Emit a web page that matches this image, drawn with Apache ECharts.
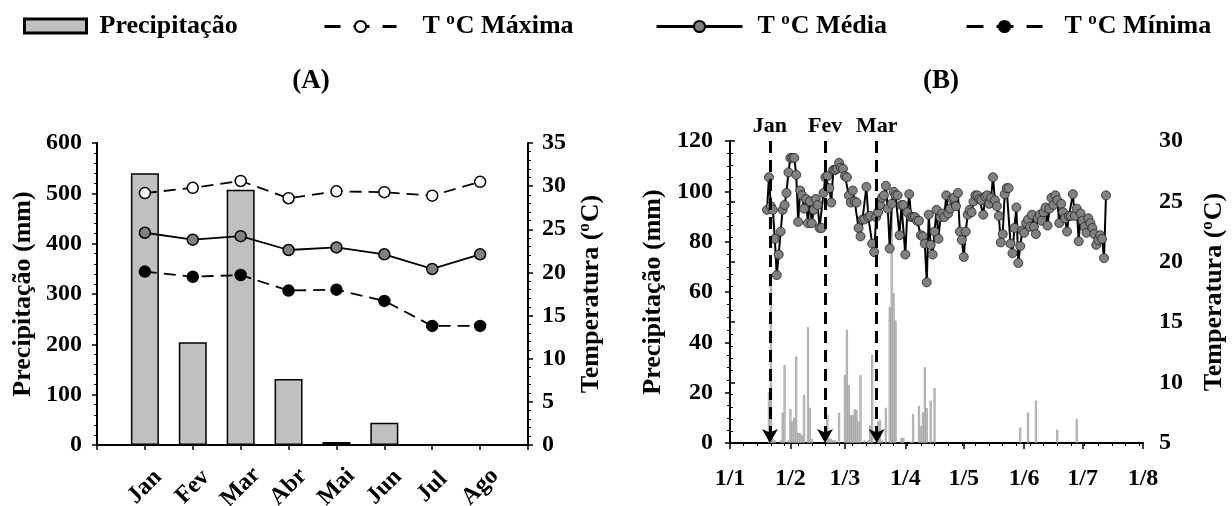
<!DOCTYPE html>
<html>
<head>
<meta charset="utf-8">
<script src="https://cdn.jsdelivr.net/npm/echarts@6/dist/echarts.min.js"></script>
<style>
  html, body { margin: 0; padding: 0; background: #fff; }
  #chart { width: 1232px; height: 506px; }
</style>
</head>
<body>
<div id="chart"></div>
<script>
// (A) monthly
const months = ['Jan', 'Fev', 'Mar', 'Abr', 'Mai', 'Jun', 'Jul', 'Ago'];
const precipMonthly = [540, 204, 507, 131, 6, 44, 0, 0];
const tMaxMonthly = [29.2, 29.8, 30.6, 28.6, 29.4, 29.3, 28.9, 30.5];
const tMedMonthly = [24.6, 23.8, 24.2, 22.6, 22.9, 22.1, 20.4, 22.1];
const tMinMonthly = [20.1, 19.5, 19.7, 17.9, 18.0, 16.7, 13.8, 13.8];

// (B) daily, day 0 = 1/1
const monthStartDays = [0, 31, 59, 90, 120, 151, 181, 212];
const monthStartLabels = ['1/1', '1/2', '1/3', '1/4', '1/5', '1/6', '1/7', '1/8'];
const rainDays = [20, 21, 22, 23, 26, 27, 28, 30, 31, 32, 33, 34, 35, 36, 37, 38, 40, 41, 42,
  50, 51, 52, 53, 54, 56, 59, 60, 61, 62, 63, 64, 65, 66, 67, 69, 71, 72, 73, 76, 77, 78,
  80, 82, 83, 84, 85, 88, 89, 93, 94, 97, 98, 99, 100, 101, 103, 105,
  149, 153, 157, 168, 178];
const rainMm = [20, 65, 1.5, 1, 1, 12, 31, 1, 13.5, 8.6, 10, 34.4, 4, 4, 3, 19.2, 46, 14, 1.5,
  11, 2, 1.5, 1, 1, 12, 27, 45, 23, 11, 11, 13.5, 13, 8.6, 27, 1, 1, 7, 35, 8.6, 9, 1,
  14, 54, 97, 59.5, 48.6, 2, 2, 0.5, 11.6, 14.8, 6.6, 12.1, 30.1, 13.9, 16.8, 21.8,
  6.2, 12.1, 16.8, 5.3, 9.5];
const tempStartDay = 19;
const tempDaily = [
  24.3, 27.0, 24.6, 24.3, 21.9, 18.9, 20.6, 22.5, 24.3, 24.7,
  25.7, 27.4, 28.6, 28.6, 28.6, 27.2, 23.3, 25.9, 25.5, 24.4,
  25.2, 23.2, 25.0, 23.2, 24.3, 25.2, 24.7, 22.8, 22.8, 25.7,
  27.0, 27.1, 26.1, 24.9, 27.6, 27.6, 27.7, 28.2, 27.8, 27.7,
  27.1, 27.0, 25.5, 24.9, 25.9, 25.0, 24.9, 22.8, 22.1, 23.5,
  23.5, 26.2, 23.7, 23.8, 21.5, 20.8, 23.7, 24.1, 24.7, 25.3,
  25.5, 26.3, 24.4, 21.1, 24.8, 25.8, 25.5, 25.5, 22.2, 24.7,
  24.7, 20.6, 24.1, 25.6, 23.7, 23.7, 23.7, 23.4, 23.4, 22.2,
  22.1, 21.5, 18.3, 23.9, 21.4, 20.6, 22.5, 24.3, 21.9, 23.7,
  24.0, 23.7, 25.5, 24.0, 24.4, 25.2, 25.3, 24.6, 25.7, 22.5,
  21.8, 20.4, 22.5, 23.9, 24.3, 24.1, 25.0, 25.5, 25.5, 25.2,
  25.1, 23.9, 25.4, 25.5, 24.8, 25.3, 27.0, 25.1, 24.6, 23.8,
  21.6, 22.3, 25.6, 26.1, 26.1, 21.5, 20.7, 22.8, 24.5, 19.9,
  21.3, 22.6, 22.4, 23.2, 23.5, 22.9, 23.9, 22.9, 22.3, 23.6,
  23.9, 23.4, 24.1, 24.5, 23.0, 24.4, 25.3, 24.7, 25.5, 25.1,
  23.2, 24.8, 24.1, 23.6, 22.5, 23.8, 23.8, 25.6, 23.8, 24.4,
  21.7, 24.0, 23.4, 22.9, 22.4, 23.6, 23.2, 22.8, 22.3, 21.4,
  21.8, 22.2, 21.9, 20.3, 25.5
];
const arrowDays = [20.5, 48.8, 75.3];
const arrowLabels = ['Jan', 'Fev', 'Mar'];

const FONT = 'Liberation Serif';
const chart = echarts.init(document.getElementById('chart'), null, { renderer: 'canvas' });

const boldText = (size) => ({ color: '#000', fontFamily: FONT, fontWeight: 'bold', fontSize: size });
// raised "o" of the degree sign
const supStyle = (size, lift) => Object.assign(boldText(size), { padding: [0, 1, lift, 0] });

const yAxisBase = {
  axisLine: { show: true, lineStyle: { color: '#000', width: 2 } },
  axisTick: { show: true, length: 5, lineStyle: { color: '#000', width: 1.5 } },
  minorTick: { show: true, length: 3, lineStyle: { color: '#000', width: 1 } },
  splitLine: { show: false },
  nameLocation: 'middle',
  nameRotate: 90,
  nameTextStyle: Object.assign(boldText(26), { rich: { sup: supStyle(17, 14) } })
};
const yLabel = (m) => Object.assign(boldText(24), { margin: m });

// A: categories with empty slots at both ends
const catA = [''].concat(months, ['']);
const padA = (arr) => [null].concat(arr, [null]);
// weekly minor ticks along the daily axis
const weekTicks = [];
for (let d = 7; d < 212; d += 7) weekTicks.push(d);

const dashed = [12, 7];
const legendText = (pad) => Object.assign(boldText(26), { padding: [0, 0, 0, pad], rich: { sup: supStyle(17, 14) } });
const legendBase = { top: 6, itemHeight: 14 };
const option = {
  animation: false,
  title: [
    { text: '(A)', left: 306, top: 63, textAlign: 'center', textStyle: boldText(27) },
    { text: '(B)', left: 936, top: 63, textAlign: 'center', textStyle: boldText(27) }
  ],
  legend: [
    Object.assign({}, legendBase, {
      data: [{ name: 'Precipitação', icon: 'rect' }], left: 18, top: 8, itemWidth: 62,
      itemStyle: { borderWidth: 3, borderColor: '#000' }, textStyle: legendText(8)
    }),
    Object.assign({}, legendBase, {
      data: ['Tmax'], left: 318, itemWidth: 72,
      lineStyle: { width: 3, type: [16, 13] },
      formatter: () => 'T {sup|o}C Máxima', textStyle: legendText(21)
    }),
    Object.assign({}, legendBase, {
      data: ['Tmed'], left: 650, itemWidth: 86,
      lineStyle: { width: 3 },
      formatter: () => 'T {sup|o}C Média', textStyle: legendText(10)
    }),
    Object.assign({}, legendBase, {
      data: ['Tmin'], left: 960, itemWidth: 76,
      lineStyle: { width: 3, type: [17, 13] },
      formatter: () => 'T {sup|o}C Mínima', textStyle: legendText(17)
    })
  ],
  grid: [
    { left: 97, right: 704, top: 143, bottom: 61, outerBoundsMode: 'none' },
    { left: 730, right: 89, top: 141, bottom: 63, outerBoundsMode: 'none' }
  ],
  xAxis: [
    {
      gridIndex: 0, type: 'category', data: catA, boundaryGap: false,
      axisLine: { lineStyle: { color: '#000', width: 2 } },
      axisTick: { show: true, length: 5, lineStyle: { color: '#000', width: 1.5 } },
      axisLabel: Object.assign(boldText(24), { rotate: 45, margin: 42, interval: 0, align: 'center', verticalAlign: 'middle' })
    },
    {
      gridIndex: 1, type: 'value', min: 0, max: 212,
      axisLine: { lineStyle: { color: '#000', width: 2 } },
      axisTick: { show: true, length: 6, customValues: monthStartDays, lineStyle: { color: '#000', width: 1.5 } },
      axisLabel: Object.assign(boldText(24), {
        margin: 24, customValues: monthStartDays,
        formatter: (v) => monthStartLabels[monthStartDays.indexOf(v)]
      }),
      splitLine: { show: false }
    },
    {
      gridIndex: 1, type: 'value', min: 0, max: 212, position: 'bottom',
      axisLine: { show: false },
      axisTick: { show: true, length: 3, customValues: weekTicks, lineStyle: { color: '#000', width: 1 } },
      axisLabel: { show: false },
      splitLine: { show: false }
    }
  ],
  yAxis: [
    Object.assign({}, yAxisBase, {
      gridIndex: 0, type: 'value', min: 0, max: 600, interval: 100, position: 'left',
      minorTick: Object.assign({}, yAxisBase.minorTick, { splitNumber: 5 }),
      axisLabel: yLabel(15), name: 'Precipitação (mm)', nameGap: 61
    }),
    Object.assign({}, yAxisBase, {
      gridIndex: 0, type: 'value', min: 0, max: 35, interval: 5, position: 'right',
      minorTick: Object.assign({}, yAxisBase.minorTick, { splitNumber: 5 }),
      axisLabel: yLabel(14), name: 'Temperatura ({sup|o}C)', nameGap: 48
    }),
    Object.assign({}, yAxisBase, {
      gridIndex: 1, type: 'value', min: 0, max: 120, interval: 20, position: 'left',
      minorTick: Object.assign({}, yAxisBase.minorTick, { splitNumber: 4 }),
      axisLabel: yLabel(17), name: 'Precipitação (mm)', nameGap: 64
    }),
    Object.assign({}, yAxisBase, {
      gridIndex: 1, type: 'value', min: 5, max: 30, interval: 5, position: 'right',
      minorTick: Object.assign({}, yAxisBase.minorTick, { splitNumber: 5 }),
      axisLabel: yLabel(16), name: 'Temperatura ({sup|o}C)', nameGap: 56
    })
  ],
  series: [
    {
      name: 'Precipitação', type: 'bar', xAxisIndex: 0, yAxisIndex: 0,
      data: padA(precipMonthly), barWidth: 28,
      itemStyle: { color: '#c0c0c0', borderColor: '#000', borderWidth: 1.5 }
    },
    {
      name: 'Tmax', type: 'line', xAxisIndex: 0, yAxisIndex: 1, data: padA(tMaxMonthly),
      symbol: 'circle', symbolSize: 11,
      lineStyle: { color: '#000', width: 1.8, type: dashed },
      itemStyle: { color: '#fff', borderColor: '#000', borderWidth: 1.5 }
    },
    {
      name: 'Tmed', type: 'line', xAxisIndex: 0, yAxisIndex: 1, data: padA(tMedMonthly),
      symbol: 'circle', symbolSize: 11,
      lineStyle: { color: '#000', width: 1.8 },
      itemStyle: { color: '#808080', borderColor: '#000', borderWidth: 1.5 }
    },
    {
      name: 'Tmin', type: 'line', xAxisIndex: 0, yAxisIndex: 1, data: padA(tMinMonthly),
      symbol: 'circle', symbolSize: 11,
      lineStyle: { color: '#000', width: 1.8, type: dashed },
      itemStyle: { color: '#000', borderColor: '#000', borderWidth: 1.5 }
    },
    {
      name: 'Chuva diária', type: 'bar', xAxisIndex: 1, yAxisIndex: 2,
      data: rainDays.map((d, i) => [d, rainMm[i]]), barWidth: 2,
      itemStyle: { color: '#d0d0d0', borderColor: '#8a8a8a', borderWidth: 0.6 },
      markLine: {
        silent: true, symbol: ['none', 'arrow'], symbolSize: [12, 14],
        lineStyle: { color: '#000', width: 3, type: [12, 7] },
        label: Object.assign(boldText(22), { show: true, position: 'start', distance: 4 }),
        data: arrowDays.map((d, i) => [
          { coord: [d, 120], name: arrowLabels[i], label: { formatter: arrowLabels[i] } },
          { coord: [d, 0] }
        ])
      }
    },
    {
      name: 'Temperatura diária', type: 'line', xAxisIndex: 1, yAxisIndex: 3,
      data: tempDaily.map((v, i) => [tempStartDay + i, v]),
      symbol: 'circle', symbolSize: 9,
      lineStyle: { color: '#000', width: 2 },
      itemStyle: { color: '#808080', borderColor: '#222', borderWidth: 0.8 }
    }
  ]
};
chart.setOption(option);
</script>
</body>
</html>
